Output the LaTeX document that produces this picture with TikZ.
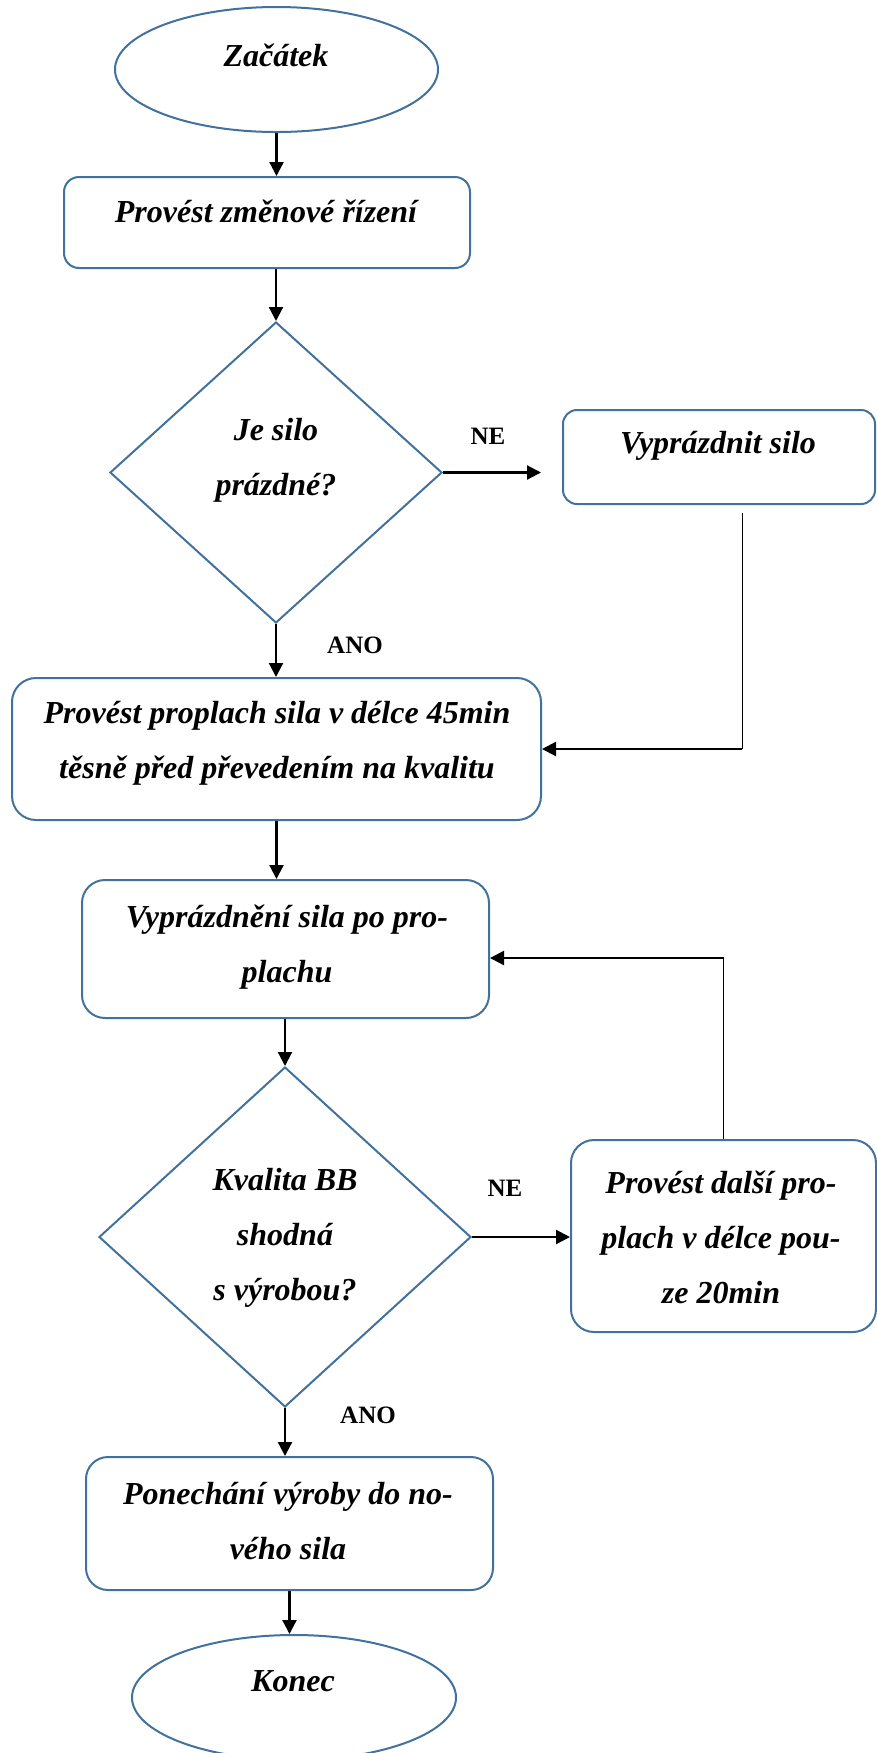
\documentclass[tikz,border=0pt]{standalone}
\usepackage{fontspec}
\setmainfont{Liberation Serif}
\usetikzlibrary{arrows.meta,shapes.geometric,positioning}
\definecolor{shapeblue}{RGB}{65,113,156}

\begin{document}
\begin{tikzpicture}[x=0.5pt,y=-0.5pt,
    every node/.style={inner sep=0pt},
    endbox/.style={ellipse,draw=shapeblue,line width=1pt,minimum width=161.5pt,minimum height=62.5pt},
    procbox/.style={rectangle,draw=shapeblue,line width=1pt,rounded corners=#1},
    procbox/.default=8pt,
    decbox/.style={diamond,draw=shapeblue,line width=1pt},
    txt/.style={font=\bfseries\itshape\fontsize{16}{27.5}\selectfont,align=center},
    lbl/.style={font=\bfseries\fontsize{12.5}{15}\selectfont},
    flow/.style={line width=1.1pt,-{Triangle[length=7pt,width=7pt]}},
    back/.style={line width=0.5pt}]
                \useasboundingbox (0,0) rectangle (877,1753);
                \clip (0,0) rectangle (877,1753);
                \node [endbox] (start) at (276.5,69.5) {};
                \node [txt] (tstart) at (276,55) {Začátek};
                \node [procbox=7.5pt,minimum width=203pt,minimum height=45.5pt] (b1) at (267,222.5) {};
                \node [txt] (tb1) at (266,211) {Provést změnové řízení};
                \node [decbox,minimum width=166pt,minimum height=150.5pt] (d1) at (276,472.5) {};
                \node [txt] (td1) at (276,460) {Je silo\\prázdné?};
                \node [procbox=7pt,minimum width=156pt,minimum height=47pt] (b2) at (719,457) {};
                \node [txt] (tb2) at (718,446) {Vyprázdnit silo};
                \node [procbox=12pt,minimum width=264.5pt,minimum height=71pt] (b3) at (276.5,749) {};
                \node [txt] (tb3) at (277,743) {Provést proplach sila v délce 45min\\těsně před převedením na kvalitu};
                \node [procbox=11.5pt,minimum width=203.5pt,minimum height=69pt] (b4) at (285.5,949) {};
                \node [txt] (tb4) at (287,947) {Vyprázdnění sila po pro-\\plachu};
                \node [decbox,minimum width=186pt,minimum height=170pt] (d2) at (285,1237) {};
                \node [txt] (td2) at (285,1238) {Kvalita BB\\shodná\\s výrobou?};
                \node [procbox=11.5pt,minimum width=152.5pt,minimum height=96pt] (b5) at (723.5,1236) {};
                \node [txt] (tb5) at (721,1237) {Provést další pro-\\plach v délce pou-\\ze 20min};
                \node [procbox=11pt,minimum width=203.5pt,minimum height=66.5pt] (b6) at (289.5,1523.5) {};
                \node [txt] (tb6) at (288,1521) {Ponechání výroby do no-\\vého sila};
                \node [endbox,minimum width=162pt] (stop) at (294,1697.5) {};
                \node [txt] (tstop) at (293,1681) {Konec};
                \node [lbl] (ne1) at (488,436) {NE};
                \node [lbl] (ano1) at (355,645) {ANO};
                \node [lbl] (ne2) at (505,1188) {NE};
                \node [lbl] (ano2) at (368,1415) {ANO};
                \draw [flow] (start.south) -- (start.south |- b1.north);
                \draw [flow] (d1.north |- b1.south) -- (d1.north);
                \path (d1.east -| b2.west) ++(-21,0) coordinate (gap1);
                \draw [flow] (d1.east) -- (gap1);
                \path (b2.south) ++(23,8) coordinate (fb1);
                \draw [back] (fb1) -- (fb1 |- b3.east) coordinate (fb2);
                \draw [flow] (fb2) -- (b3.east);
                \draw [flow] (d1.south) -- (d1.south |- b3.north);
                \draw [flow] (b3.south) -- (b3.south |- b4.north);
                \path (b4.east -| b5.north) ++(0,9) coordinate (fb3);
                \draw [back] (b5.north) -- (fb3);
                \draw [flow] (fb3) -- (fb3 -| b4.east);
                \draw [flow] (d2.north |- b4.south) -- (d2.north);
                \draw [flow] (d2.east) -- (d2.east -| b5.west);
                \draw [flow] (d2.south) -- (d2.south |- b6.north);
                \draw [flow] (b6.south) -- (b6.south |- stop.north);
\end{tikzpicture}
\end{document}
